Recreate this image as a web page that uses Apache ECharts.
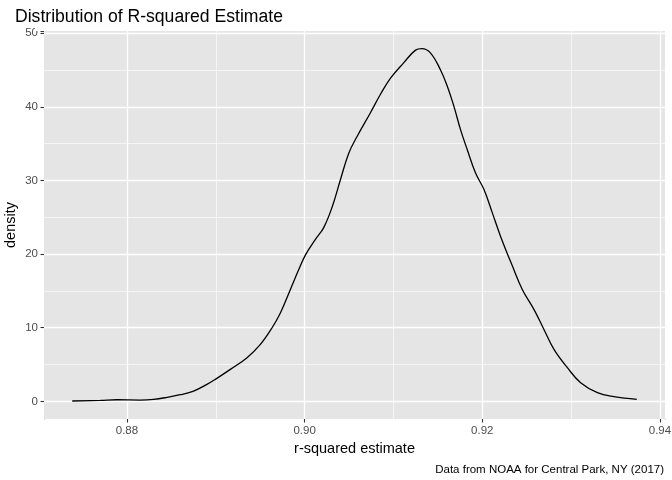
<!DOCTYPE html>
<html>
<head>
<meta charset="utf-8">
<script src="https://cdn.jsdelivr.net/npm/echarts@6/dist/echarts.min.js"></script>
<style>
  html, body { margin: 0; padding: 0; background: #fff; }
  #chart { width: 672px; height: 480px; }
</style>
</head>
<body>
<div id="chart"></div>
<script>
// density estimate of r-squared
const rsq = [0.87384, 0.8770, 0.87887, 0.8815, 0.8830, 0.8845, 0.8860, 0.8875, 0.8890, 0.88995,
  0.89164, 0.89352, 0.89502, 0.89634, 0.89727, 0.8984, 0.89934, 0.9001, 0.90122, 0.90215,
  0.9031, 0.90403, 0.90497, 0.90592, 0.90741, 0.90854, 0.90967, 0.91117, 0.91249, 0.9132,
  0.91418, 0.9153, 0.91606, 0.9168, 0.91755, 0.9183, 0.91924, 0.92018, 0.92113, 0.92206,
  0.92338, 0.9245, 0.92581, 0.92694, 0.92807, 0.92958, 0.93107, 0.93296, 0.93483, 0.93739]
const density = [0.05, 0.14, 0.22, 0.18, 0.27, 0.54, 0.90, 1.4, 2.3, 2.99,
  4.34, 5.93, 7.73, 10.0, 12.0, 15.2, 17.9, 19.9, 22.0, 23.6,
  26.4, 30.1, 33.7, 36.0, 39.2, 41.7, 43.9, 46.0, 47.7, 47.9,
  47.3, 45.0, 42.8, 40.1, 36.9, 34.2, 31.0, 28.8, 25.6, 22.4,
  18.4, 15.2, 12.5, 9.77, 7.06, 4.57, 2.53, 1.18, 0.64, 0.27]
const xTicks = [0.88, 0.90, 0.92, 0.94]
const yTicks = [0, 10, 20, 30, 40, 50]

// ggplot style 5% expansion
const xPad = (rsq[rsq.length - 1] - rsq[0]) * 0.05
const yTop = Math.max(...density)
const yPad = yTop * 0.05

const font = 'Liberation Sans, Helvetica, Arial, sans-serif'
const myChart = echarts.init(document.getElementById('chart'), null, { renderer: 'canvas' })

// white patches hide the ticks echarts puts at the expanded axis ends
const cover = (x, y, w, h) => ({ type: 'rect', silent: true, z: 100,
  shape: { x, y, width: w, height: h }, style: { fill: '#fff' } })

myChart.setOption({
  animation: false,
  backgroundColor: '#fff',
  title: [
    { text: 'Distribution of R-squared Estimate', left: 10, top: 3,
      textStyle: { fontFamily: font, fontSize: 17.6, fontWeight: 'normal', color: '#000' } },
    { text: 'Data from NOAA for Central Park, NY (2017)', right: 3, top: 459,
      textStyle: { fontFamily: font, fontSize: 11.5, fontWeight: 'normal', color: '#000' } }
  ],
  grid: { left: 44, right: 7, top: 31, bottom: 61, show: true, backgroundColor: '#e5e5e5', borderWidth: 0,
    containLabel: false, outerBoundsMode: 'none' },
  graphic: [cover(35, 416.5, 9, 8), cover(43, 419.2, 3, 5), cover(662.5, 419.2, 5, 5), cover(35, 28, 9, 3)],
  xAxis: {
    type: 'value',
    min: rsq[0] - xPad,
    max: rsq[rsq.length - 1] + xPad,
    splitNumber: 4,
    name: 'r-squared estimate',
    nameLocation: 'middle',
    nameGap: 22,
    nameMoveOverlap: false,
    nameTextStyle: { fontFamily: font, fontSize: 14.5, color: '#000', verticalAlign: 'top' },
    axisLine: { show: false, onZero: false },
    axisTick: { show: true, length: 3.5, lineStyle: { color: '#333', width: 1.1 } },
    axisLabel: { fontFamily: font, fontSize: 11.5, color: '#4d4d4d', margin: 6, customValues: xTicks,
      formatter: v => v.toFixed(2) },
    splitLine: { show: true, showMinLine: false, showMaxLine: false, lineStyle: { color: '#fff', width: 1.3 } },
    minorTick: { show: false, splitNumber: 2 },
    minorSplitLine: { show: true, lineStyle: { color: '#fff', width: 0.6 } }
  },
  yAxis: {
    type: 'value',
    min: -yPad,
    max: yTop + yPad,
    splitNumber: 5,
    name: 'density',
    nameLocation: 'middle',
    nameGap: 26,
    nameMoveOverlap: false,
    nameTextStyle: { fontFamily: font, fontSize: 14.5, color: '#000' },
    axisLine: { show: false, onZero: false },
    axisTick: { show: true, length: 3.5, lineStyle: { color: '#333', width: 1.1 } },
    axisLabel: { fontFamily: font, fontSize: 11.5, color: '#4d4d4d', margin: 6, customValues: yTicks },
    splitLine: { show: true, showMinLine: false, showMaxLine: false, lineStyle: { color: '#fff', width: 1.3 } },
    minorTick: { show: false, splitNumber: 2 },
    minorSplitLine: { show: true, lineStyle: { color: '#fff', width: 0.6 } }
  },
  series: [{
    type: 'line',
    data: rsq.map((x, i) => [x, density[i]]),
    showSymbol: false,
    smooth: 0.4,
    lineStyle: { color: '#000', width: 1.3 }
  }]
})
</script>
</body>
</html>
